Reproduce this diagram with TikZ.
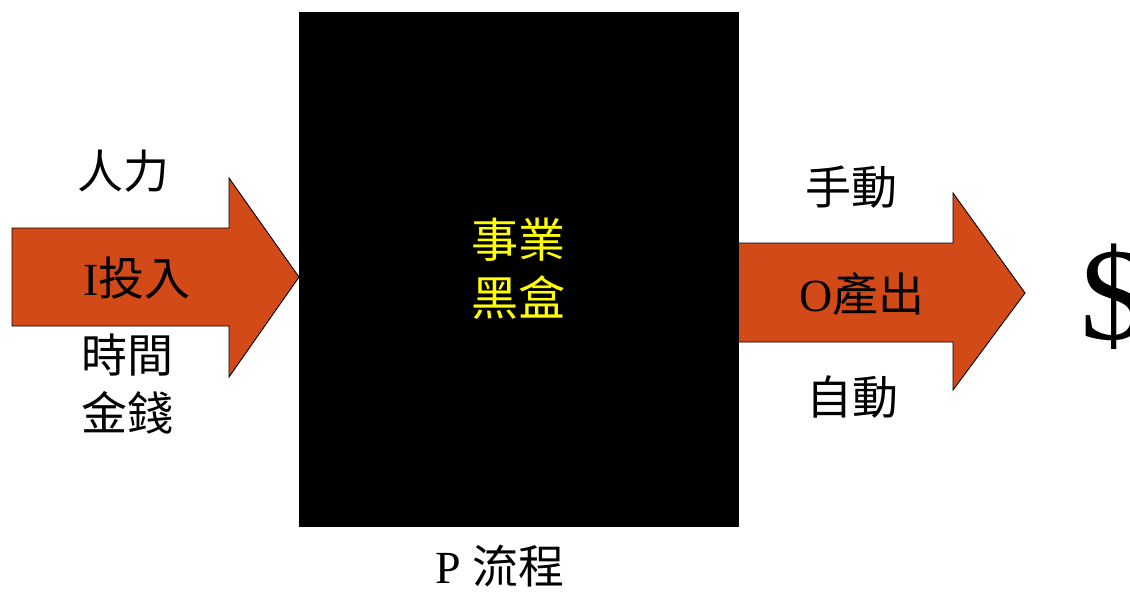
\documentclass[tikz,border=0pt]{standalone}
\usepackage{fontspec}
\setmainfont{Liberation Serif}
\newfontfamily\cjk{Noto Sans CJK TC}
\definecolor{arrowfill}{HTML}{D24A17}
\definecolor{boxyellow}{HTML}{FFFF00}
\begin{document}
\begin{tikzpicture}[x=1pt,y=-1pt,
  arrowshape/.style={fill=arrowfill,draw=black,line width=0.9pt,line join=miter},
  lbl/.style={inner sep=0pt,font=\fontsize{46}{50}\selectfont\cjk,align=center},
  lblin/.style={lbl,font=\fontsize{46}{50}\selectfont},
  boxlbl/.style={lbl,text=boxyellow,font=\fontsize{47}{58}\selectfont\cjk}]
\useasboundingbox (0,0) rectangle (1130,592);
\clip (0,0) rectangle (1130,592);
% input arrow
\draw[arrowshape] (12,228) -- (229,228) -- (229,178) -- (299,277) -- (229,377) -- (229,326) -- (12,326) -- cycle;
% output arrow
\draw[arrowshape] (730,243) -- (953,243) -- (953,193) -- (1025,293) -- (953,390) -- (953,342) -- (730,342) -- cycle;
% black box
\node[fill=black,minimum width=440pt,minimum height=515pt,inner sep=0pt] (box) at (519,269.5) {};
\node[boxlbl] (bl1) at (518,240) {事業};
\node[boxlbl] (bl2) at (518,298) {黑盒};
% labels
\node[lbl] (rl) at (123,171) {人力};
\node[lblin] (inp) at (137,278) {I{\cjk 投入}};
\node[lbl] (sj) at (127,355) {時間};
\node[lbl] (jq) at (127,413) {金錢};
\node[lbl] (sd) at (851,187) {手動};
\node[lblin] (out) at (862,294) {O{\cjk 產出}};
\node[lbl] (zd) at (852,397) {自動};
\node[lblin] (proc) at (500,566) {P {\cjk 流程}};
\node[inner sep=0pt,anchor=west,font=\fontsize{132}{136}\selectfont] (dollar) at (1080,297) {\$};
\end{tikzpicture}
\end{document}
